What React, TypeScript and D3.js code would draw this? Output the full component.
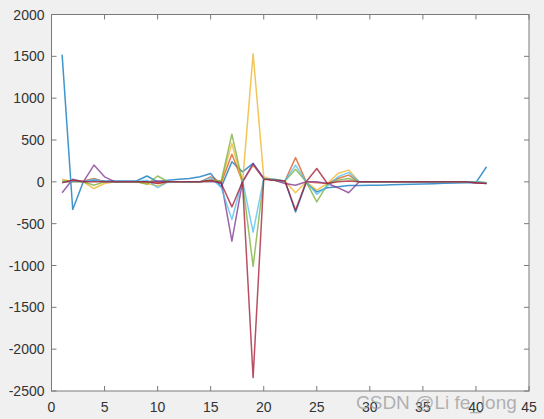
import React, { useEffect, useRef } from 'react';
import * as d3 from 'd3';

// x positions 1..41
const xs = d3.range(1, 42);

const blue = [1520, -330, 0, 20, 10, 10, 10, 10, 70, 0, 20, 30, 40, 60, 100, -60, 240, 120, 220, 40, 30, 10, -360, -10, -120, -70, -60, -45, -45, -42, -40, -36, -32, -28, -25, -22, -18, -15, -12, -10, 180];
const orange = [0, 0, 10, 40, 0, 0, 0, 0, 0, -10, 0, 0, 0, 0, 60, -10, 330, 0, 200, 40, 20, 10, 290, 0, -10, -20, 40, 80, 0, 0, 0, 0, 0, 0, 0, 0, 0, 0, 0, -10, -10];
const yellow = [30, 0, 0, -80, -20, 0, 0, 0, -20, -50, 0, 0, 0, 0, 20, 0, 460, -20, 1530, 60, 20, 10, -130, 0, -100, -20, 100, 140, 0, 0, 0, 0, 0, 0, 0, 0, 0, 0, 0, 0, -10];
const purple = [-130, 30, 0, 200, 60, 0, 0, 0, 0, 10, 0, 0, 0, 0, 0, 0, -710, 0, 220, 40, 20, -20, -40, 0, 0, -20, -70, -130, 0, 0, 0, 0, 0, 0, 0, 0, 0, 0, 0, -10, -20];
const green = [10, 10, 0, -40, 0, 0, 0, 0, -30, 70, 0, 0, 0, 0, 20, 10, 570, 0, -1010, 40, 20, 10, 150, 0, -240, -30, 20, 40, 0, 0, 0, 0, 0, 0, 0, 0, 0, 0, 0, 0, -10];
const cyan = [0, 0, 0, 30, 0, 0, 0, 0, 20, -70, 0, 0, 0, 0, 50, -70, -450, 20, -600, 40, 20, 10, 200, 0, -150, -50, 60, 110, 0, 0, 0, 0, 0, 0, 0, 0, 0, 0, 0, 0, -10];
const red = [-10, 20, 0, 0, 0, 0, 0, 0, 0, -20, 0, 0, 0, 0, 20, -20, -300, 0, -2340, 30, 20, 10, -340, 0, 160, -20, 0, 10, 0, 0, 0, 0, 0, 0, 0, 0, 0, 0, 0, -10, -20];

const series = [blue, orange, yellow, purple, green, cyan, red];
const colors = ['#0072BD', '#D95319', '#EDB120', '#7E2F8E', '#77AC30', '#4DBEEE', '#A2142F'];

const xTicks = d3.range(0, 46, 5);
const yTicks = d3.range(-2500, 2001, 500);

const App = () => {
  const svgRef = useRef<SVGSVGElement>(null);

  useEffect(() => {
    if (!svgRef.current) return;
    const svg = d3.select(svgRef.current);
    svg.selectAll('*').remove();

    const width = 544;
    const height = 419;
    const left = 51.5, right = 529, top = 14.5, bottom = 391;

    svg.append('rect').attr('width', width).attr('height', height).attr('fill', '#f0f0f0');

    const x = d3.scaleLinear().domain([0, 45]).range([left, right]);
    const y = d3.scaleLinear().domain([-2500, 2000]).range([bottom, top]);

    svg.append('rect')
      .attr('x', left).attr('y', top)
      .attr('width', right - left).attr('height', bottom - top)
      .attr('fill', '#fff');

    const line = d3.line<number>()
      .x((_, i) => x(xs[i]))
      .y(d => y(d));

    const g = svg.append('g').attr('fill', 'none').attr('stroke-linejoin', 'round');
    series.forEach((s, i) => {
      g.append('path')
        .attr('d', line(s))
        .attr('stroke', colors[i])
        .attr('stroke-width', 1.5)
        .attr('stroke-opacity', 0.75);
    });

    // box and ticks
    const axisColor = '#7a7a7a';
    svg.append('rect')
      .attr('x', left).attr('y', top)
      .attr('width', right - left).attr('height', bottom - top)
      .attr('fill', 'none').attr('stroke', axisColor).attr('stroke-width', 1);

    const tickLen = 5;
    xTicks.forEach(t => {
      svg.append('line').attr('x1', x(t)).attr('x2', x(t)).attr('y1', bottom).attr('y2', bottom - tickLen).attr('stroke', axisColor);
      svg.append('line').attr('x1', x(t)).attr('x2', x(t)).attr('y1', top).attr('y2', top + tickLen).attr('stroke', axisColor);
      svg.append('text')
        .attr('x', x(t)).attr('y', bottom + 21)
        .attr('text-anchor', 'middle')
        .attr('font-family', 'Liberation Sans, Arial, sans-serif')
        .attr('font-size', 14)
        .attr('fill', '#333')
        .text(t);
    });
    yTicks.forEach(t => {
      svg.append('line').attr('x1', left).attr('x2', left + tickLen).attr('y1', y(t)).attr('y2', y(t)).attr('stroke', axisColor);
      svg.append('line').attr('x1', right).attr('x2', right - tickLen).attr('y1', y(t)).attr('y2', y(t)).attr('stroke', axisColor);
      svg.append('text')
        .attr('x', left - 7).attr('y', y(t) + 5)
        .attr('text-anchor', 'end')
        .attr('font-family', 'Liberation Sans, Arial, sans-serif')
        .attr('font-size', 14)
        .attr('fill', '#333')
        .text(t);
    });

    // watermark
    svg.append('text')
      .attr('x', 356).attr('y', 409)
      .attr('font-family', 'Liberation Sans, Arial, sans-serif')
      .attr('font-size', 19)
      .attr('fill', '#9a9a9a')
      .attr('fill-opacity', 0.75)
      .text('CSDN @Li fe_long');
  }, []);

  return (
    <svg ref={svgRef} width={544} height={419} style={{ position: 'absolute', left: 0, top: 0 }} />
  );
};

export default App;
